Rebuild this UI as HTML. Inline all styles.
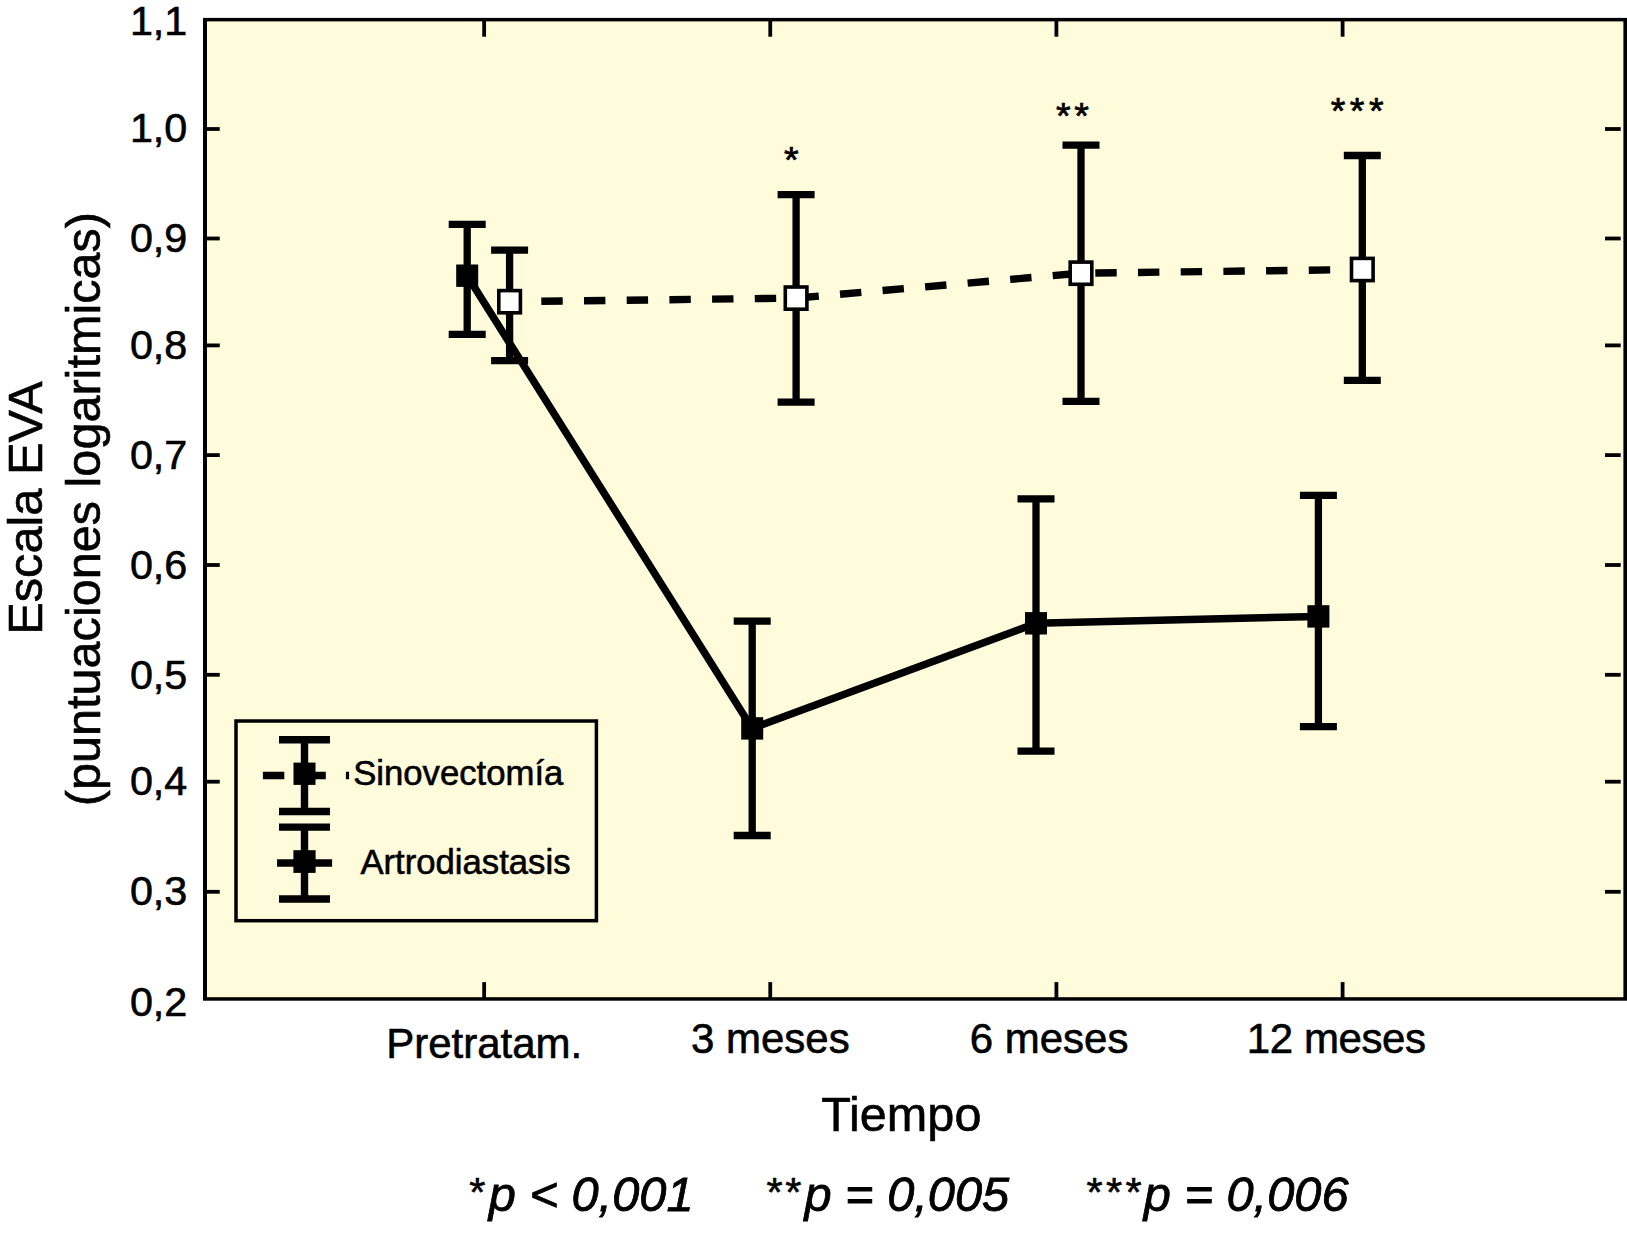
<!DOCTYPE html>
<html lang="es"><head><meta charset="utf-8"><title>Escala EVA</title>
<style>text{stroke:#000;stroke-width:.6px}.it text{stroke-width:.8px}.as text{stroke-width:.7px}html,body{margin:0;padding:0;background:#fff}body{width:1627px;height:1234px;overflow:hidden}svg{display:block}</style>
</head><body>
<svg width="1627" height="1234" viewBox="0 0 1627 1234" font-family="'Liberation Sans', Arial, Helvetica, sans-serif" fill="#000">
<rect x="0" y="0" width="1627" height="1234" fill="#fff"/>
<rect x="203" y="17.9" width="1424" height="982.8" fill="#000"/>
<rect x="207" y="21.4" width="1416.4" height="975.8" fill="#fffbdb"/>
<g stroke="#000" stroke-width="3.8" fill="none">
<line x1="205.0" y1="129.0" x2="219.75" y2="129.0"/>
<line x1="1605" y1="129.0" x2="1620.7" y2="129.0"/>
<line x1="205.0" y1="238.5" x2="219.75" y2="238.5"/>
<line x1="1605" y1="238.5" x2="1620.7" y2="238.5"/>
<line x1="205.0" y1="345.4" x2="219.75" y2="345.4"/>
<line x1="1605" y1="345.4" x2="1620.7" y2="345.4"/>
<line x1="205.0" y1="455.1" x2="219.75" y2="455.1"/>
<line x1="1605" y1="455.1" x2="1620.7" y2="455.1"/>
<line x1="205.0" y1="565.0" x2="219.75" y2="565.0"/>
<line x1="1605" y1="565.0" x2="1620.7" y2="565.0"/>
<line x1="205.0" y1="674.8" x2="219.75" y2="674.8"/>
<line x1="1605" y1="674.8" x2="1620.7" y2="674.8"/>
<line x1="205.0" y1="781.7" x2="219.75" y2="781.7"/>
<line x1="1605" y1="781.7" x2="1620.7" y2="781.7"/>
<line x1="205.0" y1="891.8" x2="219.75" y2="891.8"/>
<line x1="1605" y1="891.8" x2="1620.7" y2="891.8"/>
<line x1="484.15" y1="19.65" x2="484.15" y2="36.7"/>
<line x1="484.15" y1="998.95" x2="484.15" y2="982.1"/>
<line x1="770.25" y1="19.65" x2="770.25" y2="36.7"/>
<line x1="770.25" y1="998.95" x2="770.25" y2="982.1"/>
<line x1="1056.4" y1="19.65" x2="1056.4" y2="36.7"/>
<line x1="1056.4" y1="998.95" x2="1056.4" y2="982.1"/>
<line x1="1342.6" y1="19.65" x2="1342.6" y2="36.7"/>
<line x1="1342.6" y1="998.95" x2="1342.6" y2="982.1"/>
</g>
<g font-size="41.3" text-anchor="end">
<text x="187.3" y="34.7">1,1</text>
<text x="187.3" y="142.2">1,0</text>
<text x="187.3" y="252.1">0,9</text>
<text x="187.3" y="359.0">0,8</text>
<text x="187.3" y="469.2">0,7</text>
<text x="187.3" y="578.8">0,6</text>
<text x="187.3" y="688.8">0,5</text>
<text x="187.3" y="794.6">0,4</text>
<text x="187.3" y="904.9">0,3</text>
<text x="187.3" y="1016.4">0,2</text>
</g>
<g font-size="42" text-anchor="middle">
<text x="484.2" y="1058">Pretratam.</text>
<text x="770.3" y="1053">3 meses</text>
<text x="1049.1" y="1053">6 meses</text>
<text x="1336.2" y="1053" letter-spacing="-0.4">12 meses</text>
</g>
<text x="901.3" y="1130.7" font-size="48.6" text-anchor="middle">Tiempo</text>
<g class="it" font-size="48.8" font-style="italic">
<text x="488.7" y="1210.7">p &lt; 0,001</text>
<text x="804.4" y="1210.7">p = 0,005</text>
<text x="1143.7" y="1210.7">p = 0,006</text>
</g>
<g font-size="41.5">
<text x="469.3" y="1205.7">*</text>
<text x="766.5" y="1205.7" letter-spacing="2.7">**</text>
<text x="1086.5" y="1205.7" letter-spacing="3.3">***</text>
</g>
<text transform="translate(41.8,508.0) rotate(-90)" font-size="48.7" text-anchor="middle">Escala EVA</text>
<text transform="translate(99.8,509.1) rotate(-90)" font-size="48.6" text-anchor="middle">(puntuaciones logaritmicas)</text>
<g stroke="#000" stroke-width="7.3" fill="none">
<path d="M448.7 224.3H485.7M448.7 334.3H485.7M467.2 224.3V334.3"/>
<path d="M733.7 621.2H770.7M733.7 835.5H770.7M752.2 621.2V835.5"/>
<path d="M1017.5 498.8H1054.5M1017.5 751.2H1054.5M1036 498.8V751.2"/>
<path d="M1299.9 495.3H1336.9M1299.9 726.7H1336.9M1318.4 495.3V726.7"/>
<path d="M491.1 250.2H528.1M491.1 360.6H528.1M509.6 250.2V360.6"/>
<path d="M777.6 194.7H814.6M777.6 402.2H814.6M796.1 194.7V402.2"/>
<path d="M1062.5 145.1H1099.5M1062.5 401.4H1099.5M1081 145.1V401.4"/>
<path d="M1343.8 155.5H1380.8M1343.8 380.4H1380.8M1362.3 155.5V380.4"/>
</g>
<polyline points="467.2,275.7 752.2,728.4 1036,623.3 1318.4,616.4" fill="none" stroke="#000" stroke-width="7.5" stroke-linejoin="miter"/>
<polyline points="509.6,301.7 796.1,298.1 1081,273.2 1362.3,269.5" fill="none" stroke="#000" stroke-width="7.4" stroke-dasharray="21.4 21.3" stroke-dashoffset="11.0"/>
<rect x="456.2" y="264.5" width="22" height="22.4" fill="#000"/>
<rect x="741.2" y="717.1999999999999" width="22" height="22.4" fill="#000"/>
<rect x="1025" y="612.0999999999999" width="22" height="22.4" fill="#000"/>
<rect x="1307.4" y="605.1999999999999" width="22" height="22.4" fill="#000"/>
<rect x="498.8" y="290.59999999999997" width="21.6" height="22.2" fill="#fff" stroke="#000" stroke-width="3.6"/>
<rect x="785.3000000000001" y="287.0" width="21.6" height="22.2" fill="#fff" stroke="#000" stroke-width="3.6"/>
<rect x="1070.2" y="262.09999999999997" width="21.6" height="22.2" fill="#fff" stroke="#000" stroke-width="3.6"/>
<rect x="1351.5" y="258.4" width="21.6" height="22.2" fill="#fff" stroke="#000" stroke-width="3.6"/>
<g class="as" font-size="37.6" text-anchor="start">
<text x="784.1" y="172.9">*</text>
<text x="1056.1" y="129.0" letter-spacing="3.6">**</text>
<text x="1330.7" y="123.7" letter-spacing="4.5">***</text>
</g>
<rect x="236" y="721" width="360.4" height="199.7" fill="#fffbdb" stroke="#000" stroke-width="3.5"/>
<g stroke="#000" stroke-width="7.4" fill="none">
<path d="M279 739.8H330M279 811.5H330M304.5 739.8V811.5"/>
<path d="M279 827.1H330M279 899H330M304.5 827.1V899"/>
<path d="M277.1 863H332.1"/>
<path d="M262.9 775.5H284.3M304 775.5H325.8M345.9 775.5H349.1"/>
</g>
<rect x="293.5" y="762.6" width="22" height="22.3" fill="#000"/>
<rect x="293.4" y="850.2" width="22.2" height="22.7" fill="#000"/>
<text x="353.2" y="784.5" font-size="34.7">Sinovectomía</text>
<text x="360.4" y="873.6" font-size="34.7">Artrodiastasis</text>
</svg>
</body></html>
